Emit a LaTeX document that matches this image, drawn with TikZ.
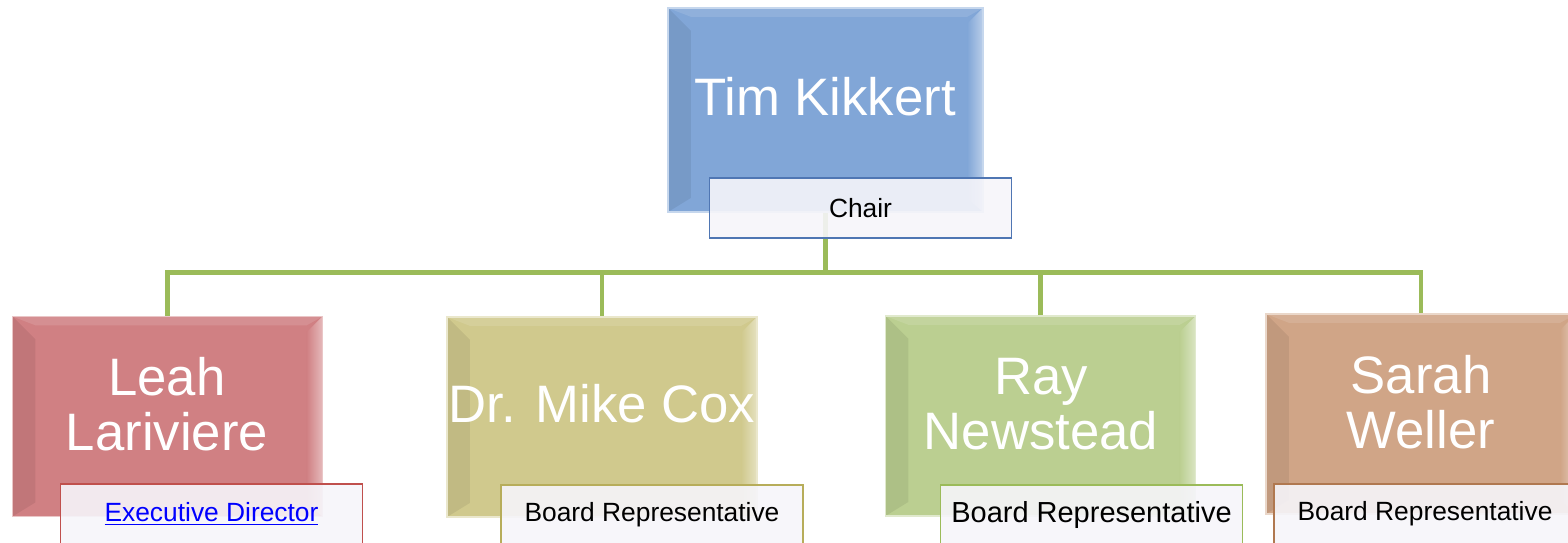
\documentclass[tikz,border=0pt]{standalone}
\usepackage{fontspec}
\setmainfont{Liberation Sans}
\usetikzlibrary{calc,backgrounds}
\definecolor{timc}{RGB}{129,166,215}
\definecolor{leahc}{RGB}{208,128,131}
\definecolor{mikec}{RGB}{208,201,141}
\definecolor{rayc}{RGB}{187,207,145}
\definecolor{sarahc}{RGB}{208,165,135}
\definecolor{linkc}{RGB}{155,187,89}
\definecolor{rolefill}{RGB}{246,245,250}
\definecolor{timline}{RGB}{79,118,179}
\definecolor{leahline}{RGB}{192,80,77}
\definecolor{mikeline}{RGB}{183,173,90}
\definecolor{sarahline}{RGB}{176,120,80}
\tikzset{
  person/.style={minimum width=6.2cm,minimum height=4cm,inner sep=0pt,fill=#1,draw=#1!45!white,line width=1pt,
    path picture={
      \path (path picture bounding box.north west) coordinate (nw) (path picture bounding box.south east) coordinate (se);
      \fill[black,opacity=.07] (nw) -- ++(13pt,-13pt) -- ($(nw|-se)+(13pt,8pt)$) -- (nw|-se) -- cycle;
      \shade[left color=#1,right color=#1!55!white] (se|-nw) -- ++(-9pt,-9pt) -- ($(se)+(-9pt,8pt)$) -- (se) -- cycle;
      \fill[white,opacity=.12] (nw) -- (se|-nw) -- ++(-9pt,-5pt) -- ($(nw)+(13pt,-5pt)$) -- cycle;}},
  personname/.style={text=white,align=center,font=\fontsize{30}{31}\selectfont},
  role/.style={draw=#1,line width=1pt,fill=rolefill,fill opacity=.9,text opacity=1,minimum width=6.04cm,minimum height=1.2cm,inner sep=0pt,font=\fontsize{15}{18}\selectfont},
  link/.style={draw=linkc,line width=2.8pt}
}
\begin{document}
\begin{tikzpicture}[x=0.02cm,y=-0.02cm]
	\path[use as bounding box] (0,0) rectangle (1568,543);
	\clip (0,0) rectangle (1568,543);
	\node[person=timc,minimum width=6.3cm,minimum height=4.08cm] (tim) at (825.5,110) {};
	\node[person=leahc] (leah) at (167.5,416.5) {};
	\node[person=mikec] (mike) at (602,417) {};
	\node[person=rayc] (ray) at (1040.5,416) {};
	\node[person=sarahc] (sarah) at (1421,414) {};
	\node[personname] (timname) at (825,97) {Tim Kikkert};
	\node[personname] (leahname) at (167,404) {Leah\\Lariviere};
	\node[personname] (mikename) at (602,404) {Dr. Mike Cox};
	\node[personname] (rayname) at (1041,404) {Ray\\Newstead};
	\node[personname] (sarahname) at (1421,402) {Sarah\\Weller};
	\node[role=timline] (chair) at (860.5,208) {Chair};
	\node[role=leahline,text=blue] (leahrole) at (211.5,514) {\underline{Executive Director}};
	\node[role=mikeline] (mikerole) at (652,515) {Board Representative};
	\node[role=linkc,font=\fontsize{16.5}{19}\selectfont] (rayrole) at (1091.5,515) {Board Representative};
	\node[role=sarahline] (sarahrole) at (1425,514) {Board Representative};
	\begin{pgfonlayer}{background}
		\foreach \n in {leah,mike,ray,sarah}
		\draw[link] (tim.south) -- ++(0,60) -| (\n.north);
	\end{pgfonlayer}
\end{tikzpicture}
\end{document}
